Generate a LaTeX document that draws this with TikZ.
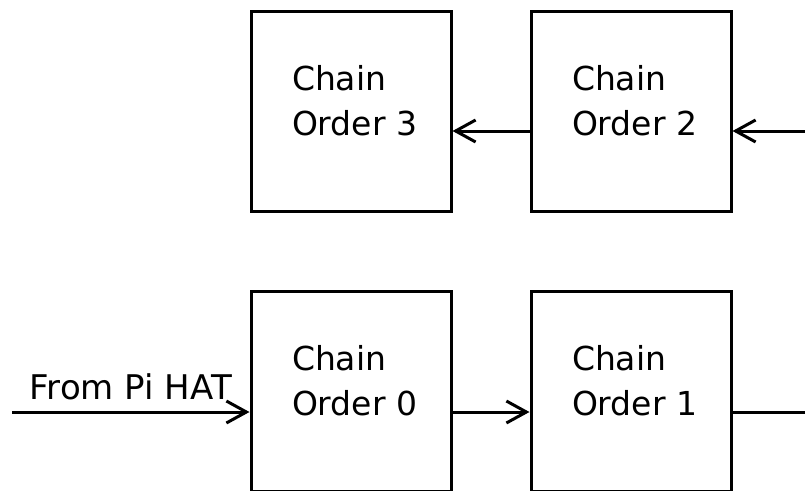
\documentclass[tikz,border=0pt]{standalone}
\usepackage{fontspec}
\setmainfont{DejaVu Sans}
\usetikzlibrary{arrows.meta}
\begin{document}
\begin{tikzpicture}[x=1pt,y=-1pt,
  chainbox/.style={draw=black, line width=3pt, minimum width=200pt, minimum height=200pt,
    inner sep=0pt,
    label={[boxtext]center:{Chain\\Order~#1}}},
  boxtext/.style={inner sep=0pt, text width=118pt, align=left, yshift=10pt,
    font=\fontsize{33}{45}\selectfont},
  wire/.style={line width=3pt},
  feed/.style={wire, -{Straight Barb[length=20pt,width=22pt,line width=3pt]}},
  lbl/.style={font=\fontsize{34}{38}\selectfont, anchor=base, inner sep=0pt}]
\useasboundingbox (0,0) rectangle (805,490);

% upper row
\node[chainbox=3] (c3) at (351,111) {};
\node[chainbox=2] (c2) at (631,111) {};
% lower row (bottom edge runs along the page border)
\node[chainbox=0] (c0) at (351,391) {};
\node[chainbox=1] (c1) at (631,391) {};

% free ends of the chain
\coordinate (src) at (12,412);
\coordinate (tail) at (805,412);
\coordinate (back) at (805,131);

% links
\draw[feed] (src) -- node[lbl, yshift=13pt] {From Pi HAT} ([yshift=-21pt]c0.west);
\draw[feed] ([yshift=-21pt]c0.east) -- ([yshift=-21pt]c1.west);
\draw[wire] ([yshift=-21pt]c1.east) -- (tail);
\draw[feed] (back) -- ([yshift=-20pt]c2.east);
\draw[feed] ([yshift=-20pt]c2.west) -- ([yshift=-20pt]c3.east);
\end{tikzpicture}
\end{document}
